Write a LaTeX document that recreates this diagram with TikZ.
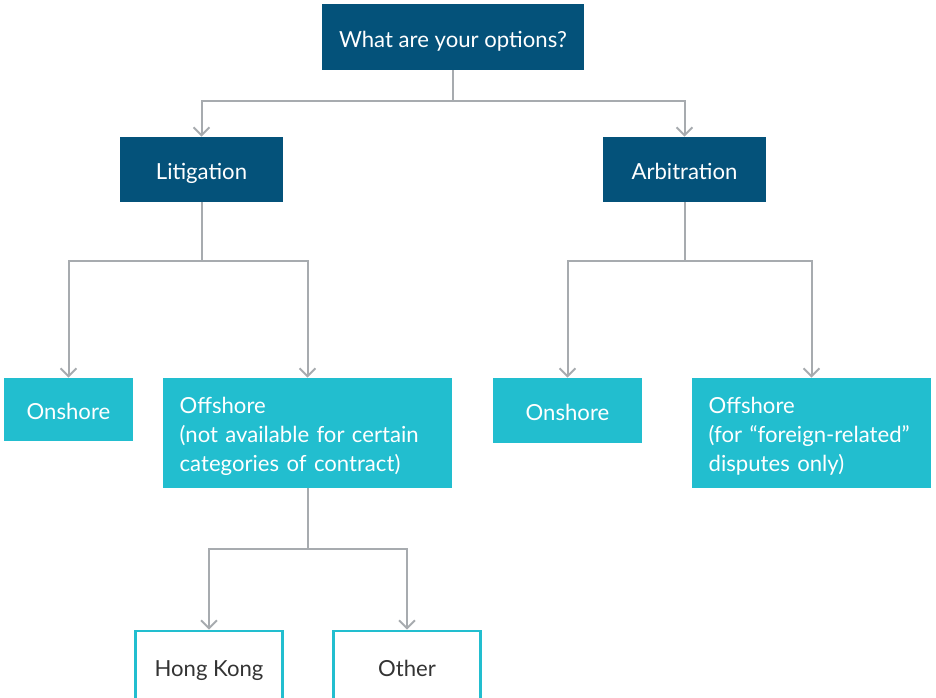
\documentclass[tikz,border=0pt]{standalone}
\usepackage{fontspec}
\setmainfont{Lato}
\usepackage{tikz}
\usetikzlibrary{arrows.meta,positioning}
\definecolor{deepblue}{HTML}{04527A}
\definecolor{boxteal}{HTML}{22BECF}
\definecolor{linegray}{HTML}{A7ABAF}
\definecolor{textgray}{HTML}{333333}
\newcommand{\boxfont}{\fontsize{16.6}{21.75}\selectfont}
\newcommand{\topstrut}{\rule{0pt}{17pt}}
\tikzset{
  headnode/.style={
    rectangle, fill=deepblue, text=white, inner sep=0pt,
    text height=17pt, text depth=1.5pt,
    align=center, font=\boxfont
  },
  optnode/.style={
    rectangle, fill=boxteal, text=white, inner sep=0pt,
    text height=17pt, text depth=1.5pt,
    align=center, font=\boxfont
  },
  widenode/.style={
    rectangle, fill=boxteal, text=white, inner ysep=0pt,
    inner xsep=12.5pt, align=left, font=\boxfont
  },
  placenode/.style={
    rectangle, draw=boxteal, line width=1.9pt, fill=white, text=textgray,
    text height=16pt, text depth=1.5pt,
    inner sep=0pt, align=center, font=\boxfont
  },
  treearrow/.style={-{Straight Barb[length=6pt, width=12pt, line width=1.5pt]},
    line width=1.5pt, color=linegray},
}

\begin{document}
\begin{tikzpicture}[x=0.75pt, y=-0.75pt]
  \clip (0,0) rectangle (936,697);
  \node[headnode, minimum width=196.5pt, minimum height=49.5pt] (options) at (453,37) {What are your options?};
  \node[headnode, minimum width=122.25pt, minimum height=48.75pt] (litigation) at (201.5,169.5) {Litigation};
  \node[headnode, minimum width=122.25pt, minimum height=48.75pt] (arbitration) at (684.5,169.5) {Arbitration};

  \node[optnode, minimum width=96.75pt, minimum height=47.25pt] (litonshore) at (68.5,409.5) {Onshore};
  \node[widenode, text width=191.75pt, minimum height=82.5pt] (litoffshore) at (307.5,433)
    {\topstrut Offshore\\(not available for certain\\categories of contract)};
  \node[optnode, minimum width=111.75pt, minimum height=48.75pt] (arbonshore) at (567.5,410.5) {Onshore};
  \node[widenode, text width=154.25pt, minimum height=82.5pt] (arboffshore) at (811.5,433)
    {\topstrut Offshore\\(for “foreign-related”\\disputes only)};

  \node[placenode, minimum width=110.5pt, minimum height=54pt] (hongkong) at (209,667) {Hong Kong};
  \node[placenode, minimum width=110.5pt, minimum height=54pt] (other) at (407,667) {Other};

  \foreach \a/\b/\d in {options/litigation/23.25, options/arbitration/23.25,
      litigation/litonshore/44.25, litigation/litoffshore/44.25,
      arbitration/arbonshore/44.25, arbitration/arboffshore/44.25,
      litoffshore/hongkong/45.75, litoffshore/other/45.75}
    \draw[treearrow] (\a.south) -- ++(0,-\d pt) -| (\b.north);
\end{tikzpicture}
\end{document}
